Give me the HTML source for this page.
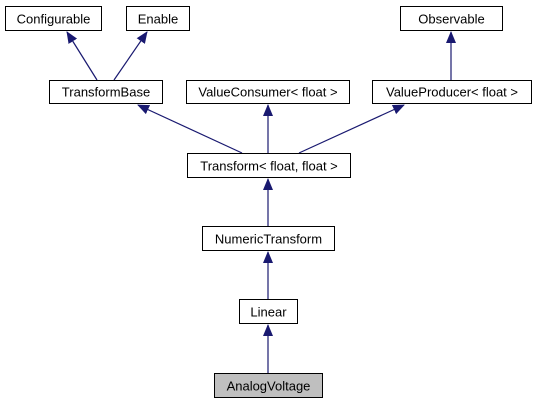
<!DOCTYPE html>
<html><head><style>html,body{margin:0;padding:0;background:#fff}</style></head><body>
<svg width="536" height="403" viewBox="0 0 536 403" xmlns="http://www.w3.org/2000/svg" font-family="Liberation Sans, Arial, sans-serif" font-size="13">
<defs><marker id="a" markerWidth="12" markerHeight="12" refX="11" refY="6" orient="auto" markerUnits="userSpaceOnUse"><path d="M0,1 L12,6 L0,11 Z" fill="#191970"/></marker></defs>
<g stroke="#191970" stroke-width="1.2" fill="none">
<line x1="97" y1="80" x2="67" y2="32" marker-end="url(#a)"/>
<line x1="114" y1="80" x2="147" y2="32" marker-end="url(#a)"/>
<line x1="242" y1="153" x2="138" y2="105" marker-end="url(#a)"/>
<line x1="268" y1="153" x2="268" y2="105" marker-end="url(#a)"/>
<line x1="299" y1="153" x2="404" y2="105" marker-end="url(#a)"/>
<line x1="451" y1="80" x2="451" y2="32" marker-end="url(#a)"/>
<line x1="268" y1="226" x2="268" y2="179" marker-end="url(#a)"/>
<line x1="268" y1="299" x2="268" y2="252" marker-end="url(#a)"/>
<line x1="268" y1="373" x2="268" y2="325" marker-end="url(#a)"/>
</g>
<g stroke="#000" stroke-width="1" fill="#fff">
<rect x="5.5" y="6.5" width="96" height="24"/>
<rect x="126.5" y="6.5" width="63" height="24"/>
<rect x="400.5" y="6.5" width="102" height="24"/>
<rect x="49.5" y="80.5" width="113" height="23"/>
<rect x="186.5" y="80.5" width="163" height="23"/>
<rect x="372.5" y="80.5" width="159" height="23"/>
<rect x="187.5" y="153.5" width="163" height="24"/>
<rect x="202.5" y="226.5" width="132" height="24"/>
<rect x="239.5" y="299.5" width="58" height="24"/>
<rect x="214.5" y="373.5" width="108" height="24" fill="#bfbfbf"/>
</g>
<g text-anchor="middle" fill="#000">
<text x="53.5" y="23.5">Configurable</text>
<text x="158" y="23.5">Enable</text>
<text x="451.5" y="23.5">Observable</text>
<text x="106" y="96.5">TransformBase</text>
<text x="268" y="96.5">ValueConsumer&lt; float &gt;</text>
<text x="452" y="96.5">ValueProducer&lt; float &gt;</text>
<text x="269" y="170.5">Transform&lt; float, float &gt;</text>
<text x="268.5" y="243.5">NumericTransform</text>
<text x="268.5" y="316.5">Linear</text>
<text x="268.5" y="390.5">AnalogVoltage</text>
</g>
</svg>
</body></html>
